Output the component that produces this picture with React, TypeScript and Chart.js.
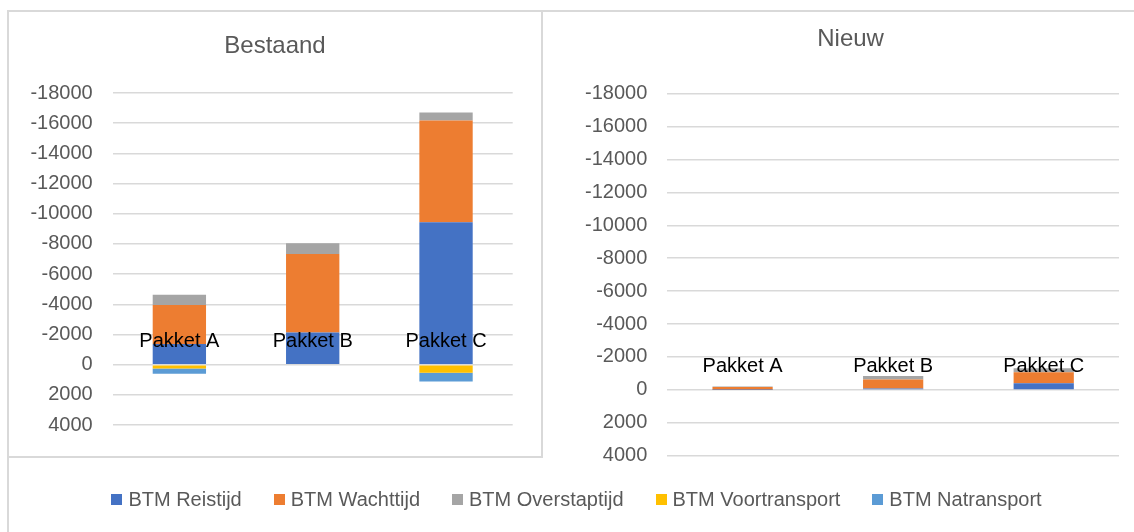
import React, { useEffect, useRef } from 'react';
import { Chart, registerables } from 'chart.js';

Chart.register(...registerables);

// ---- data ----
const categories = ['Pakket A', 'Pakket B', 'Pakket C'];
const seriesNames = ['BTM Reistijd', 'BTM Wachttijd', 'BTM Overstaptijd', 'BTM Voortransport', 'BTM Natransport'];
const seriesColors = ['#4472C4', '#ED7D31', '#A5A5A5', '#FFC000', '#5B9BD5'];

const bestaandReistijd = [-1370, -2130, -9430];
const bestaandWachttijd = [-2580, -5200, -6750];
const bestaandOverstaptijd = [-685, -720, -525];
const bestaandVoortransport = [250, 60, 530];
const bestaandNatransport = [350, 0, 590];

const nieuwReistijd = [-10, -80, -400];
const nieuwWachttijd = [-170, -550, -670];
const nieuwOverstaptijd = [-20, -220, -240];
const nieuwVoortransport = [0, 0, 0];
const nieuwNatransport = [0, 0, 0];

const yMin = -18000;
const yMax = 4000;
const yStep = 2000;

const titleBestaand = 'Bestaand';
const titleNieuw = 'Nieuw';

// ---- styles ----
const FONT = '"Liberation Sans", Arial, sans-serif';
const TEXT_GRAY = '#595959';
const GRID = '#d9d9d9';
const FRAME = '#d9d9d9';

const panelTitlePlugin = {
  id: 'panelTitle',
  afterDraw(chart: any, _args: any, opts: any) {
    if (!opts || !opts.text) return;
    const ctx = chart.ctx;
    ctx.save();
    ctx.font = `24px ${FONT}`;
    ctx.fillStyle = TEXT_GRAY;
    ctx.textAlign = 'center';
    ctx.textBaseline = 'middle';
    ctx.fillText(opts.text, opts.x, opts.y);
    ctx.restore();
  },
};

const categoryLabelPlugin = {
  id: 'categoryLabels',
  afterDatasetsDraw(chart: any, _args: any, opts: any) {
    const { ctx, scales } = chart;
    const xs = scales.x;
    const ys = scales.y;
    const y0 = ys.getPixelForValue(0);
    ctx.save();
    ctx.font = `20px ${FONT}`;
    ctx.fillStyle = '#000000';
    ctx.textAlign = 'center';
    ctx.textBaseline = 'alphabetic';
    (chart.data.labels as string[]).forEach((lab, i) => {
      ctx.fillText(lab, xs.getPixelForValue(i), y0 - (opts?.offset ?? 18));
    });
    ctx.restore();
  },
};

function makeConfig(series: number[][], title: string, titleX: number, titleY: number, padding: any) {
  return {
    type: 'bar' as const,
    data: {
      labels: categories,
      datasets: series.map((vals, i) => ({
        label: seriesNames[i],
        data: vals,
        backgroundColor: seriesColors[i],
        borderWidth: 0,
        categoryPercentage: 1,
        barPercentage: 0.4,
      })),
    },
    options: {
      responsive: false,
      animation: false as const,
      layout: { padding },
      plugins: {
        legend: { display: false },
        title: { display: false },
        tooltip: { enabled: false },
        panelTitle: { text: title, x: titleX, y: titleY },
        categoryLabels: { offset: 18 },
      },
      scales: {
        x: {
          stacked: true,
          display: false,
        },
        y: {
          stacked: true,
          reverse: true,
          min: yMin,
          max: yMax,
          border: { display: false },
          grid: { color: GRID, lineWidth: 1.5, drawTicks: false },
          ticks: {
            stepSize: yStep,
            padding: 20,
            color: TEXT_GRAY,
            font: { family: FONT, size: 20 },
            callback: (v: any) => String(v),
          },
          afterFit: (scale: any) => {
            scale.width = 100;
          },
        },
      },
    },
    plugins: [panelTitlePlugin, categoryLabelPlugin],
  };
}

function Panel({ config, left, top, width, height }: any) {
  const ref = useRef<HTMLCanvasElement | null>(null);
  useEffect(() => {
    if (!ref.current) return;
    const chart = new Chart(ref.current, config as any);
    return () => chart.destroy();
  }, []);
  return (
    <canvas
      ref={ref}
      width={width}
      height={height}
      style={{ position: 'absolute', left, top, width, height }}
    />
  );
}

const line = (left: number, top: number, width: number, height: number) => (
  <div style={{ position: 'absolute', left, top, width, height, background: FRAME, zIndex: 2 }} />
);

export default function App() {
  const leftConfig = makeConfig(
    [bestaandReistijd, bestaandWachttijd, bestaandOverstaptijd, bestaandVoortransport, bestaandNatransport],
    titleBestaand,
    275,
    46,
    { left: 12.7, right: 29.3, top: 93, bottom: 29.3 }
  );
  const rightConfig = makeConfig(
    [nieuwReistijd, nieuwWachttijd, nieuwOverstaptijd, nieuwVoortransport, nieuwNatransport],
    titleNieuw,
    308.6,
    39.5,
    { left: 25.3, right: 15, top: 93.7, bottom: 76.3 }
  );

  return (
    <div
      style={{
        position: 'absolute',
        left: 0,
        top: 0,
        width: 1134,
        height: 532,
        overflow: 'hidden',
        background: '#ffffff',
      }}
    >
      <Panel config={leftConfig} left={0} top={0} width={542} height={457} />
      <Panel config={rightConfig} left={542} top={0} width={592} height={532} />
      {line(7, 10, 1127, 2)}
      {line(7, 10, 2, 522)}
      {line(541, 10, 2, 448)}
      {line(7, 456, 536, 2)}
      <div
        style={{
          position: 'absolute',
          left: 0,
          top: 486,
          width: 1153,
          height: 26,
          display: 'flex',
          justifyContent: 'center',
          alignItems: 'center',
          gap: 32,
          fontFamily: FONT,
          fontSize: 20,
          color: TEXT_GRAY,
          whiteSpace: 'nowrap',
        }}
      >
        {seriesNames.map((name, i) => (
          <div key={name} style={{ display: 'flex', alignItems: 'center' }}>
            <span
              style={{
                display: 'inline-block',
                width: 11,
                height: 11,
                background: seriesColors[i],
                marginRight: 6,
              }}
            />
            <span>{name}</span>
          </div>
        ))}
      </div>
    </div>
  );
}
